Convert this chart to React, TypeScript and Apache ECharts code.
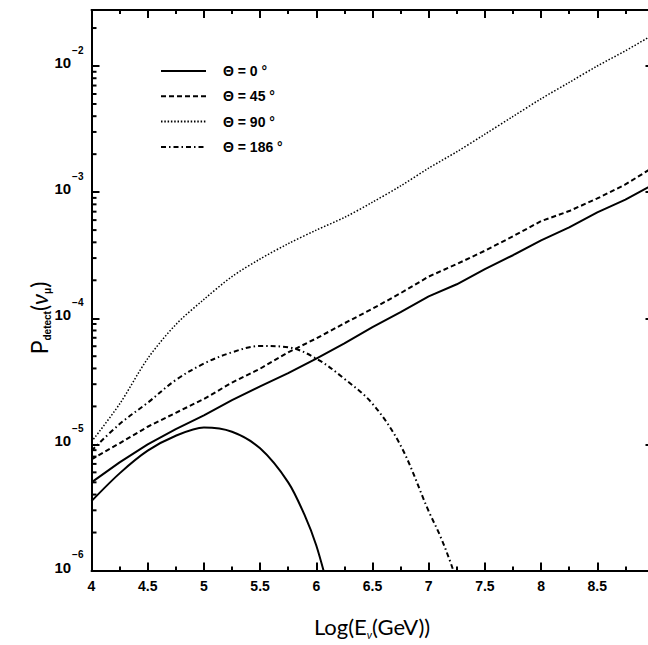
import React, { useEffect, useRef } from "react";
import * as echarts from "echarts";

// ---- data ----
const xs = [4.0, 4.25, 4.5, 4.75, 5.0, 5.25, 5.5, 5.75, 6.0, 6.25, 6.5, 6.75, 7.0, 7.25, 7.5, 7.75, 8.0, 8.25, 8.5, 8.75, 9.0];
const theta0 = [5.0e-6, 7.2e-6, 1.0e-5, 1.32e-5, 1.7e-5, 2.24e-5, 2.88e-5, 3.67e-5, 4.79e-5, 6.31e-5, 8.51e-5, 1.12e-4, 1.49e-4, 1.86e-4, 2.45e-4, 3.16e-4, 4.15e-4, 5.25e-4, 6.92e-4, 8.71e-4, 1.15e-3];
const theta45 = [7.6e-6, 1.02e-5, 1.38e-5, 1.78e-5, 2.29e-5, 3.09e-5, 3.98e-5, 5.37e-5, 6.92e-5, 9.12e-5, 1.19e-4, 1.58e-4, 2.14e-4, 2.69e-4, 3.43e-4, 4.47e-4, 5.89e-4, 7.08e-4, 8.91e-4, 1.15e-3, 1.58e-3];
const theta90 = [1.05e-5, 2.09e-5, 4.79e-5, 8.91e-5, 1.41e-4, 2.14e-4, 2.95e-4, 3.9e-4, 5.0e-4, 6.3e-4, 8.32e-4, 1.12e-3, 1.55e-3, 2.09e-3, 2.88e-3, 3.98e-3, 5.5e-3, 7.41e-3, 1.0e-2, 1.32e-2, 1.78e-2];
const xs186 = [4.0, 4.25, 4.5, 4.75, 5.0, 5.25, 5.5, 5.75, 6.0, 6.25, 6.5, 6.75, 7.0, 7.1, 7.2, 7.3];
const theta186 = [8.9e-6, 1.45e-5, 2.14e-5, 3.24e-5, 4.37e-5, 5.37e-5, 6.03e-5, 5.89e-5, 4.79e-5, 3.31e-5, 2.1e-5, 9.8e-6, 2.95e-6, 1.9e-6, 1.12e-6, 6.0e-7];
const xsPeak = [4.0, 4.25, 4.5, 4.75, 5.0, 5.25, 5.5, 5.75, 5.9, 6.0, 6.1];
const peak = [3.55e-6, 5.89e-6, 8.91e-6, 1.17e-5, 1.36e-5, 1.26e-5, 9.3e-6, 5.0e-6, 2.7e-6, 1.58e-6, 7.6e-7];

const legendNames = ["Θ = 0 °", "Θ = 45 °", "Θ = 90 °", "Θ = 186 °"];
const xMin = 4;
const xMax = 9;
const yMin = 1e-6;
const yMax = 0.0278;
const decades = [-6, -5, -4, -3, -2];
const minorMultipliers = [2, 3, 4, 5, 6, 7, 8, 9];

const FONT = "Liberation Sans";
const TITLE_FONT = "Lato";

const zip = (a: number[], b: number[]) => a.map((x, i) => [x, b[i]]);

export default function App() {
  const ref = useRef<HTMLDivElement>(null);
  useEffect(() => {
    if (!ref.current) return;
    const chart = echarts.init(ref.current, undefined, { renderer: "svg" });
    const gridLeft = 91.5;
    const gridTop = 10;
    const gridW = 562;
    const gridH = 560.5;

    const yLabelRich = {
      b: { fontSize: 15, fontWeight: "bold", fontFamily: FONT, color: "#000", lineHeight: 15, padding: [0, 0, 7, 0] },
      s: { fontSize: 10, fontWeight: "bold", fontFamily: FONT, color: "#000", lineHeight: 10, padding: [0, 0, 32, 1] },
    };

    const minorTickData: number[][] = [];
    decades.forEach((d) =>
      minorMultipliers.forEach((k) => {
        const v = k * Math.pow(10, d);
        if (v < yMax) minorTickData.push([xMin, v]);
      })
    );

    const baseLine = (w: number, type: any) => ({ color: "#000", width: w, type });

    const option: any = {
      animation: false,
      backgroundColor: "#fff",
      grid: { left: gridLeft, top: gridTop, width: gridW, height: gridH, outerBoundsMode: "none" },
      legend: {
        orient: "vertical",
        left: 155,
        top: 59,
        itemWidth: 45,
        itemHeight: 14,
        itemGap: 11.3,
        selectedMode: false,
        data: legendNames,
        itemStyle: { opacity: 0, color: "rgba(0,0,0,0)", borderWidth: 0 },
        textStyle: { fontFamily: FONT, fontWeight: "bold", fontSize: 14, color: "#000", padding: [0, 0, 0, 12] },
      },
      xAxis: [
        {
          type: "value", position: "bottom", min: xMin, max: xMax, interval: 0.5,
          axisLine: { show: true, onZero: false, lineStyle: { color: "#000", width: 2 } },
          axisTick: { show: true, inside: true, length: 8, lineStyle: { color: "#000", width: 2 } },
          minorTick: { show: true, splitNumber: 2, length: 4, lineStyle: { color: "#000", width: 2 } },
          splitLine: { show: false }, minorSplitLine: { show: false },
          axisLabel: { show: true, margin: 8, color: "#000", fontFamily: FONT, fontWeight: "bold", fontSize: 14, formatter: (v: number) => (v >= xMax ? "" : String(v)) },
        },
        {
          type: "value", position: "top", min: xMin, max: xMax, interval: 0.5,
          axisLine: { show: true, onZero: false, lineStyle: { color: "#000", width: 2 } },
          axisTick: { show: true, inside: true, length: 8, lineStyle: { color: "#000", width: 2 } },
          minorTick: { show: true, splitNumber: 2, length: 4, lineStyle: { color: "#000", width: 2 } },
          splitLine: { show: false }, minorSplitLine: { show: false },
          axisLabel: { show: false },
        },
      ],
      yAxis: [
        {
          type: "log", logBase: 10, position: "left", min: yMin, max: yMax,
          axisLine: { show: true, onZero: false, lineStyle: { color: "#000", width: 2 } },
          axisTick: { show: true, inside: true, length: 8, lineStyle: { color: "#000", width: 2 } },
          splitLine: { show: false },
          axisLabel: {
            show: true, margin: 8, color: "#000",
            formatter: (v: number) => {
              const l = Math.log10(v);
              const e = Math.round(l);
              if (Math.abs(l - e) > 1e-6) return "";
              return `{b|10}{s|−${-e}}`;
            },
            rich: yLabelRich,
          },
        },
        {
          type: "log", logBase: 10, position: "right", min: yMin, max: yMax,
          axisLine: { show: true, onZero: false, lineStyle: { color: "#000", width: 2 } },
          axisTick: { show: true, inside: true, length: 8, lineStyle: { color: "#000", width: 2 } },
          splitLine: { show: false },
          axisLabel: { show: false },
        },
      ],
      series: [
        { name: legendNames[0], type: "line", data: zip(xs, theta0), symbol: "none", lineStyle: baseLine(2, "solid"), itemStyle: { color: "#000" } },
        { name: legendNames[1], type: "line", data: zip(xs, theta45), symbol: "none", lineStyle: baseLine(2, [5, 3]), itemStyle: { color: "#000" } },
        { name: legendNames[2], type: "line", data: zip(xs, theta90), symbol: "none", smooth: 0.3, lineStyle: baseLine(1.5, [1.5, 1.8]), itemStyle: { color: "#000" } },
        { name: legendNames[3], type: "line", data: zip(xs186, theta186), symbol: "none", smooth: 0.35, lineStyle: baseLine(2, [5, 3, 1.5, 3]), itemStyle: { color: "#000" } },
        { name: "peak", type: "line", data: zip(xsPeak, peak), symbol: "none", smooth: 0.3, lineStyle: baseLine(2, "solid"), itemStyle: { color: "#000" } },
        {
          name: "minorTicks", type: "custom", data: minorTickData, clip: false, silent: true, z: 10,
          renderItem: (_params: any, api: any) => {
            const p = api.coord([api.value(0), api.value(1)]);
            return {
              type: "line",
              shape: { x1: p[0], y1: p[1], x2: p[0] + 5, y2: p[1] },
              style: { stroke: "#000", lineWidth: 2 },
            };
          },
        },
      ],
      graphic: {
        elements: [
          {
            type: "text", x: 372, y: 628,
            style: {
              text: "{t|Log(E}{u|ν}{t|(GeV))}",
              align: "center", verticalAlign: "middle",
              rich: {
                t: { fontFamily: TITLE_FONT, fontSize: 22, color: "#000", lineHeight: 26, verticalAlign: "top" },
                u: { fontFamily: TITLE_FONT, fontSize: 11, fontStyle: "italic", color: "#000", lineHeight: 11, verticalAlign: "top", padding: [14, 0, 0, 0] },
              },
            },
          },
          {
            type: "text", x: 40, y: 318, rotation: Math.PI / 2,
            style: {
              text: "{t|P}{u|detect}{t|(}{n|ν}{u|μ}{t|)}",
              align: "center", verticalAlign: "middle",
              rich: {
                t: { fontFamily: TITLE_FONT, fontSize: 23, color: "#000", lineHeight: 26, verticalAlign: "top" },
                n: { fontFamily: TITLE_FONT, fontSize: 23, fontStyle: "italic", color: "#000", lineHeight: 26, verticalAlign: "top" },
                u: { fontFamily: FONT, fontSize: 10, fontWeight: "bold", color: "#000", lineHeight: 10, verticalAlign: "top", padding: [15, 0, 0, 0] },
              },
            },
          },
        ],
      },
    };
    chart.setOption(option);

    return () => chart.dispose();
  }, []);
  return <div ref={ref} style={{ position: "fixed", left: 0, top: 0, width: 648, height: 645, background: "#fff" }} />;
}
